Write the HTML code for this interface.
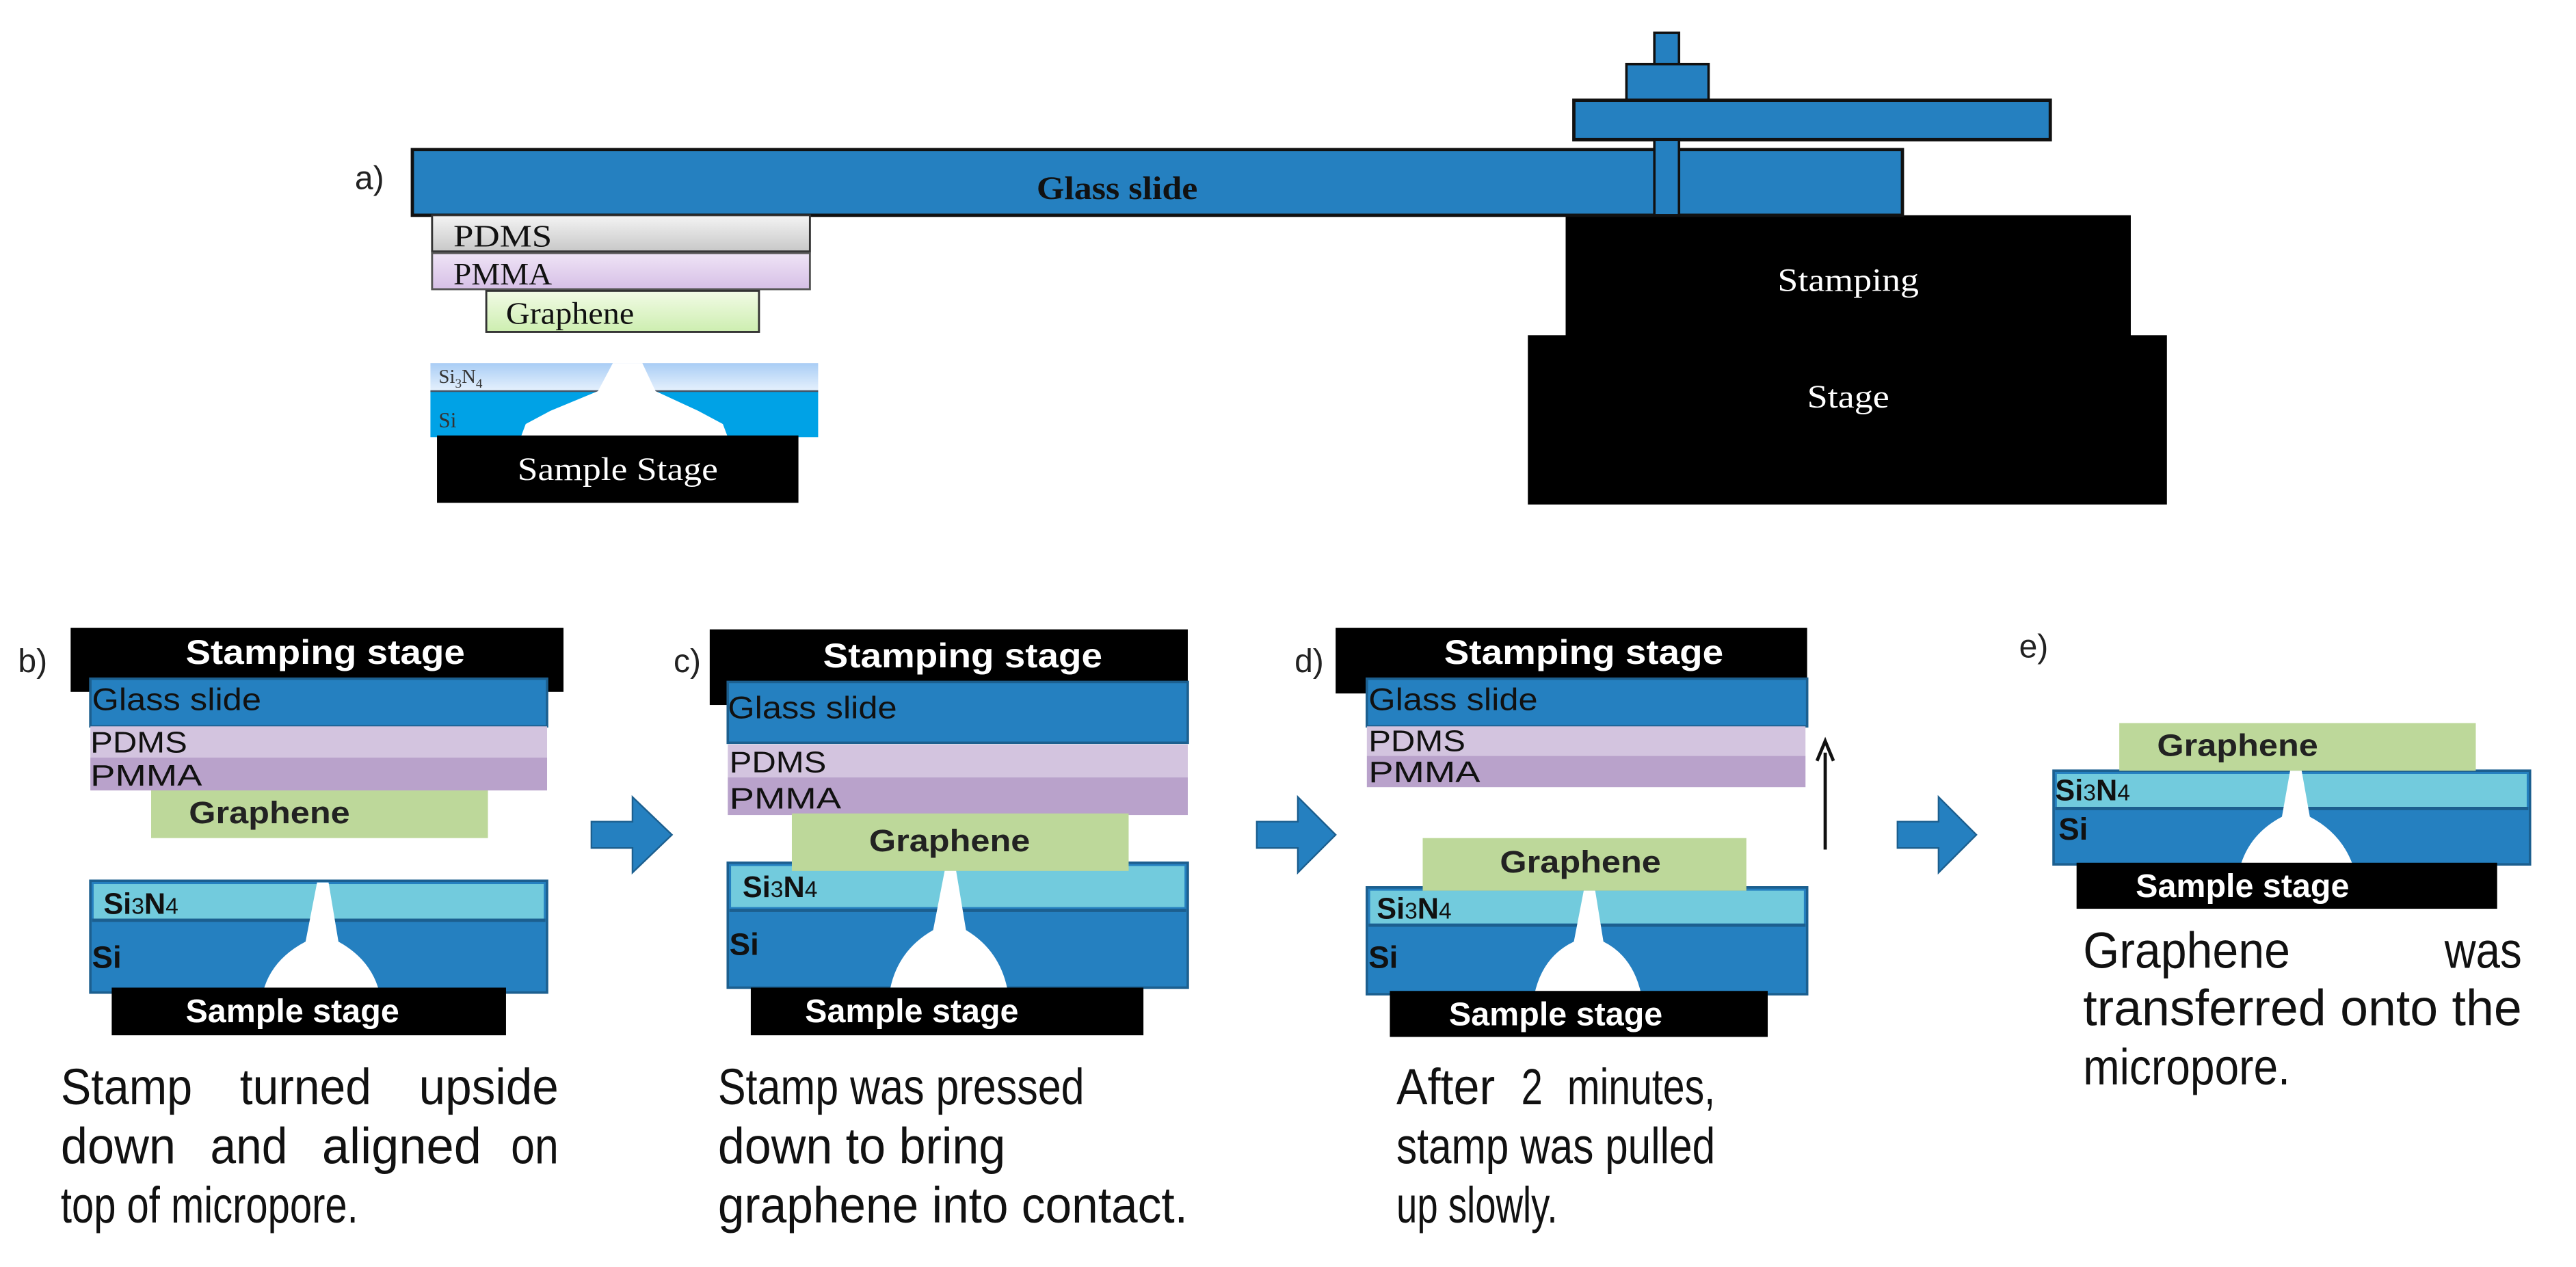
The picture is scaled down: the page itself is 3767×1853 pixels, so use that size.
<!DOCTYPE html>
<html><head><meta charset="utf-8"><style>
html,body{margin:0;padding:0;background:#fff;}
svg{display:block;}
.s{font-family:"Liberation Serif",serif;}
.c{font-family:"Liberation Sans",sans-serif;}
</style></head><body>
<svg width="3767" height="1853" viewBox="0 0 1568 771" preserveAspectRatio="none" xmlns="http://www.w3.org/2000/svg">
<defs>
<linearGradient id="gpd" x1="0" y1="0" x2="0" y2="1"><stop offset="0" stop-color="#f4f4f4"/><stop offset="1" stop-color="#c8c8c8"/></linearGradient>
<linearGradient id="gpm" x1="0" y1="0" x2="0" y2="1"><stop offset="0" stop-color="#efe4f6"/><stop offset="1" stop-color="#d6bfe6"/></linearGradient>
<linearGradient id="ggr" x1="0" y1="0" x2="0" y2="1"><stop offset="0" stop-color="#f2fbe6"/><stop offset="1" stop-color="#cdeeb0"/></linearGradient>
<linearGradient id="gsn" x1="0" y1="0" x2="0" y2="1"><stop offset="0" stop-color="#a9cdf5"/><stop offset="1" stop-color="#e6f1fd"/></linearGradient>
</defs>

<!-- Panel a -->
<text x="216" y="115" class="c" font-size="20" fill="#222">a)</text>
<rect x="1007" y="20" width="15" height="20" fill="#2580c0" stroke="#111" stroke-width="1.5"/>
<rect x="990" y="39" width="50" height="22" fill="#2580c0" stroke="#111" stroke-width="1.5"/>
<rect x="958" y="61" width="290" height="24" fill="#2580c0" stroke="#111" stroke-width="2"/>
<rect x="953" y="131" width="344" height="76" fill="#000"/>
<rect x="930" y="204" width="389" height="103" fill="#000"/>
<rect x="251" y="91" width="907" height="40" fill="#2580c0" stroke="#111" stroke-width="2"/>
<rect x="1007" y="85" width="15" height="46" fill="#2580c0" stroke="#111" stroke-width="1.5"/>
<text x="680" y="121" class="s" font-size="20" font-weight="bold" text-anchor="middle" fill="#111" textLength="98" lengthAdjust="spacingAndGlyphs">Glass slide</text>
<text x="1125" y="177" class="s" font-size="20" text-anchor="middle" fill="#fff" textLength="86" lengthAdjust="spacingAndGlyphs">Stamping</text>
<text x="1125" y="248" class="s" font-size="20" text-anchor="middle" fill="#fff" textLength="50" lengthAdjust="spacingAndGlyphs">Stage</text>
<rect x="263" y="131" width="230" height="22" fill="url(#gpd)" stroke="#333" stroke-width="1.2"/>
<text x="276" y="150" class="s" font-size="19" fill="#111" textLength="60" lengthAdjust="spacingAndGlyphs">PDMS</text>
<rect x="263" y="154" width="230" height="22" fill="url(#gpm)" stroke="#555" stroke-width="1.2"/>
<text x="276" y="173" class="s" font-size="19" fill="#111" textLength="60" lengthAdjust="spacingAndGlyphs">PMMA</text>
<rect x="296" y="177" width="166" height="25" fill="url(#ggr)" stroke="#333" stroke-width="1.2"/>
<text x="308" y="197" class="s" font-size="19" fill="#111" textLength="78" lengthAdjust="spacingAndGlyphs">Graphene</text>
<rect x="262" y="221" width="236" height="17" fill="url(#gsn)"/>
<rect x="262" y="238" width="236" height="28" fill="#00a2e6"/>
<line x1="262" y1="238" x2="498" y2="238" stroke="#456" stroke-width="1"/>
<path d="M373,221 L391,221 L399,238 L425,250 L440,258 L443,266 L317,266 L320,258 L335,250 L364,238 Z" fill="#fff"/>
<text x="267" y="233" class="s" font-size="12" fill="#333">Si<tspan font-size="8" dy="3">3</tspan><tspan dy="-3">N</tspan><tspan font-size="8" dy="3">4</tspan></text>
<text x="267" y="260" class="s" font-size="13" fill="#333">Si</text>
<rect x="266" y="265" width="220" height="41" fill="#000"/>
<text x="376" y="292" class="s" font-size="20" text-anchor="middle" fill="#fff" textLength="122" lengthAdjust="spacingAndGlyphs">Sample Stage</text>

<!-- Panel b -->
<text x="11" y="409" class="c" font-size="20" fill="#222">b)</text>
<rect x="43" y="382" width="300" height="39" fill="#000"/>
<text x="198" y="404" class="c" font-size="21" font-weight="bold" text-anchor="middle" fill="#fff" textLength="170" lengthAdjust="spacingAndGlyphs">Stamping stage</text>
<rect x="55" y="413" width="278" height="29" fill="#2580c0" stroke="#1c5f8f" stroke-width="1.5"/>
<text x="56" y="432" class="c" font-size="19" fill="#111" textLength="103" lengthAdjust="spacingAndGlyphs">Glass slide</text>
<rect x="55" y="442" width="278" height="19" fill="#d3c4df"/>
<rect x="55" y="461" width="278" height="20" fill="#b9a2cb"/>
<text x="55" y="458" class="c" font-size="18" fill="#111" textLength="59" lengthAdjust="spacingAndGlyphs">PDMS</text>
<text x="55" y="478" class="c" font-size="18" fill="#111" textLength="68" lengthAdjust="spacingAndGlyphs">PMMA</text>
<rect x="92" y="481" width="205" height="29" fill="#bdd89a"/>
<text x="115" y="501" class="c" font-size="19" font-weight="bold" fill="#222" textLength="98" lengthAdjust="spacingAndGlyphs">Graphene</text>
<rect x="55" y="536" width="278" height="68" fill="#2580c0" stroke="#1c5f8f" stroke-width="1.5"/>
<rect x="57" y="538" width="274" height="21" fill="#72cbdd"/>
<line x1="56" y1="560" x2="332" y2="560" stroke="#1c5f8f" stroke-width="2"/>
<path d="M193,537 L200,537 L206,573 Q226,584 231,604 L160,604 Q165,584 186,573 Z" fill="#fff"/>
<text x="63" y="556" class="c" font-size="18" font-weight="bold" fill="#111">Si<tspan font-size="14" font-weight="normal">3</tspan>N<tspan font-size="14" font-weight="normal">4</tspan></text>
<text x="56" y="589" class="c" font-size="19" font-weight="bold" fill="#111">Si</text>
<rect x="68" y="601" width="240" height="29" fill="#000"/>
<text x="178" y="622" class="c" font-size="20" font-weight="bold" text-anchor="middle" fill="#fff" textLength="130" lengthAdjust="spacingAndGlyphs">Sample stage</text>
<g class="c" font-size="31" fill="#111">
<text x="37" y="672" textLength="80" lengthAdjust="spacingAndGlyphs">Stamp</text>
<text x="146" y="672" textLength="80" lengthAdjust="spacingAndGlyphs">turned</text>
<text x="255" y="672" textLength="85" lengthAdjust="spacingAndGlyphs">upside</text>
<text x="37" y="708" textLength="70" lengthAdjust="spacingAndGlyphs">down</text>
<text x="128" y="708" textLength="47" lengthAdjust="spacingAndGlyphs">and</text>
<text x="196" y="708" textLength="97" lengthAdjust="spacingAndGlyphs">aligned</text>
<text x="311" y="708" textLength="29" lengthAdjust="spacingAndGlyphs">on</text>
<text x="37" y="744" textLength="181" lengthAdjust="spacingAndGlyphs">top of micropore.</text>
</g>

<!-- arrows -->
<g fill="#2580c0" stroke="#1c5f8f" stroke-width="1">
<path d="M360,500 L385,500 L385,485 L409,508 L385,531 L385,516 L360,516 Z"/>
<path d="M765,500 L790,500 L790,485 L813,508 L790,531 L790,516 L765,516 Z"/>
<path d="M1155,500 L1180,500 L1180,485 L1203,508 L1180,531 L1180,516 L1155,516 Z"/>
</g>

<!-- Panel c -->
<text x="410" y="409" class="c" font-size="20" fill="#222">c)</text>
<rect x="432" y="383" width="291" height="46" fill="#000"/>
<text x="586" y="406" class="c" font-size="21" font-weight="bold" text-anchor="middle" fill="#fff" textLength="170" lengthAdjust="spacingAndGlyphs">Stamping stage</text>
<rect x="443" y="415" width="280" height="37" fill="#2580c0" stroke="#1c5f8f" stroke-width="1.5"/>
<text x="443" y="437" class="c" font-size="19" fill="#111" textLength="103" lengthAdjust="spacingAndGlyphs">Glass slide</text>
<rect x="443" y="453" width="280" height="20" fill="#d3c4df"/>
<rect x="443" y="473" width="280" height="23" fill="#b9a2cb"/>
<text x="444" y="470" class="c" font-size="18" fill="#111" textLength="59" lengthAdjust="spacingAndGlyphs">PDMS</text>
<text x="444" y="492" class="c" font-size="18" fill="#111" textLength="68" lengthAdjust="spacingAndGlyphs">PMMA</text>
<rect x="443" y="525" width="280" height="76" fill="#2580c0" stroke="#1c5f8f" stroke-width="1.5"/>
<rect x="445" y="527" width="276" height="25" fill="#72cbdd"/>
<line x1="444" y1="554" x2="722" y2="554" stroke="#1c5f8f" stroke-width="2"/>
<rect x="482" y="495" width="205" height="35" fill="#bdd89a"/>
<text x="578" y="518" class="c" font-size="19" font-weight="bold" text-anchor="middle" fill="#222" textLength="98" lengthAdjust="spacingAndGlyphs">Graphene</text>
<path d="M575,530 L582,530 L588,566 Q608,578 613,601 L542,601 Q547,578 568,566 Z" fill="#fff"/>
<text x="452" y="546" class="c" font-size="18" font-weight="bold" fill="#111">Si<tspan font-size="14" font-weight="normal">3</tspan>N<tspan font-size="14" font-weight="normal">4</tspan></text>
<text x="444" y="581" class="c" font-size="19" font-weight="bold" fill="#111">Si</text>
<rect x="457" y="601" width="239" height="29" fill="#000"/>
<text x="555" y="622" class="c" font-size="20" font-weight="bold" text-anchor="middle" fill="#fff" textLength="130" lengthAdjust="spacingAndGlyphs">Sample stage</text>
<g class="c" font-size="31" fill="#111">
<text x="437" y="672" textLength="223" lengthAdjust="spacingAndGlyphs">Stamp was pressed</text>
<text x="437" y="708" textLength="175" lengthAdjust="spacingAndGlyphs">down to bring</text>
<text x="437" y="744" textLength="286" lengthAdjust="spacingAndGlyphs">graphene into contact.</text>
</g>

<!-- Panel d -->
<text x="788" y="409" class="c" font-size="20" fill="#222">d)</text>
<rect x="813" y="382" width="287" height="40" fill="#000"/>
<text x="964" y="404" class="c" font-size="21" font-weight="bold" text-anchor="middle" fill="#fff" textLength="170" lengthAdjust="spacingAndGlyphs">Stamping stage</text>
<rect x="832" y="413" width="268" height="29" fill="#2580c0" stroke="#1c5f8f" stroke-width="1.5"/>
<text x="833" y="432" class="c" font-size="19" fill="#111" textLength="103" lengthAdjust="spacingAndGlyphs">Glass slide</text>
<rect x="832" y="442" width="267" height="18" fill="#d3c4df"/>
<rect x="832" y="460" width="267" height="19" fill="#b9a2cb"/>
<text x="833" y="457" class="c" font-size="18" fill="#111" textLength="59" lengthAdjust="spacingAndGlyphs">PDMS</text>
<text x="833" y="476" class="c" font-size="18" fill="#111" textLength="68" lengthAdjust="spacingAndGlyphs">PMMA</text>
<line x1="1111" y1="517" x2="1111" y2="458" stroke="#111" stroke-width="2"/>
<path d="M1106,463 L1111,451 L1116,463" fill="none" stroke="#111" stroke-width="2"/>
<rect x="832" y="540" width="268" height="65" fill="#2580c0" stroke="#1c5f8f" stroke-width="1.5"/>
<rect x="834" y="542" width="264" height="20" fill="#72cbdd"/>
<line x1="833" y1="563" x2="1099" y2="563" stroke="#1c5f8f" stroke-width="2"/>
<rect x="866" y="510" width="197" height="32" fill="#bdd89a"/>
<text x="962" y="531" class="c" font-size="19" font-weight="bold" text-anchor="middle" fill="#222" textLength="98" lengthAdjust="spacingAndGlyphs">Graphene</text>
<path d="M964,542 L971,542 L976,573 Q994,582 999,605 L934,605 Q939,582 958,573 Z" fill="#fff"/>
<text x="838" y="559" class="c" font-size="18" font-weight="bold" fill="#111">Si<tspan font-size="14" font-weight="normal">3</tspan>N<tspan font-size="14" font-weight="normal">4</tspan></text>
<text x="833" y="589" class="c" font-size="19" font-weight="bold" fill="#111">Si</text>
<rect x="846" y="603" width="230" height="28" fill="#000"/>
<text x="947" y="624" class="c" font-size="20" font-weight="bold" text-anchor="middle" fill="#fff" textLength="130" lengthAdjust="spacingAndGlyphs">Sample stage</text>
<g class="c" font-size="31" fill="#111">
<text x="850" y="672" textLength="60" lengthAdjust="spacingAndGlyphs">After</text>
<text x="926" y="672" textLength="13" lengthAdjust="spacingAndGlyphs">2</text>
<text x="954" y="672" textLength="90" lengthAdjust="spacingAndGlyphs">minutes,</text>
<text x="850" y="708" textLength="194" lengthAdjust="spacingAndGlyphs">stamp was pulled</text>
<text x="850" y="744" textLength="98" lengthAdjust="spacingAndGlyphs">up slowly.</text>
</g>

<!-- Panel e -->
<text x="1229" y="400" class="c" font-size="20" fill="#222">e)</text>
<rect x="1250" y="469" width="290" height="57" fill="#2580c0" stroke="#1c5f8f" stroke-width="1.5"/>
<rect x="1252" y="471" width="286" height="20" fill="#72cbdd"/>
<line x1="1251" y1="492" x2="1539" y2="492" stroke="#1c5f8f" stroke-width="2"/>
<rect x="1290" y="440" width="217" height="29" fill="#bdd89a"/>
<text x="1362" y="460" class="c" font-size="19" font-weight="bold" text-anchor="middle" fill="#222" textLength="98" lengthAdjust="spacingAndGlyphs">Graphene</text>
<path d="M1394,469 L1401,469 L1406,497 Q1425,507 1432,526 L1364,526 Q1370,507 1389,497 Z" fill="#fff"/>
<text x="1251" y="487" class="c" font-size="18" font-weight="bold" fill="#111">Si<tspan font-size="14" font-weight="normal">3</tspan>N<tspan font-size="14" font-weight="normal">4</tspan></text>
<text x="1253" y="511" class="c" font-size="19" font-weight="bold" fill="#111">Si</text>
<rect x="1264" y="525" width="256" height="28" fill="#000"/>
<text x="1365" y="546" class="c" font-size="20" font-weight="bold" text-anchor="middle" fill="#fff" textLength="130" lengthAdjust="spacingAndGlyphs">Sample stage</text>
<g class="c" font-size="31" fill="#111">
<text x="1268" y="589" textLength="126" lengthAdjust="spacingAndGlyphs">Graphene</text>
<text x="1488" y="589" textLength="47" lengthAdjust="spacingAndGlyphs">was</text>
<text x="1268" y="624" textLength="267" lengthAdjust="spacingAndGlyphs">transferred onto the</text>
<text x="1268" y="660" textLength="126" lengthAdjust="spacingAndGlyphs">micropore.</text>
</g>
</svg>
</body></html>
